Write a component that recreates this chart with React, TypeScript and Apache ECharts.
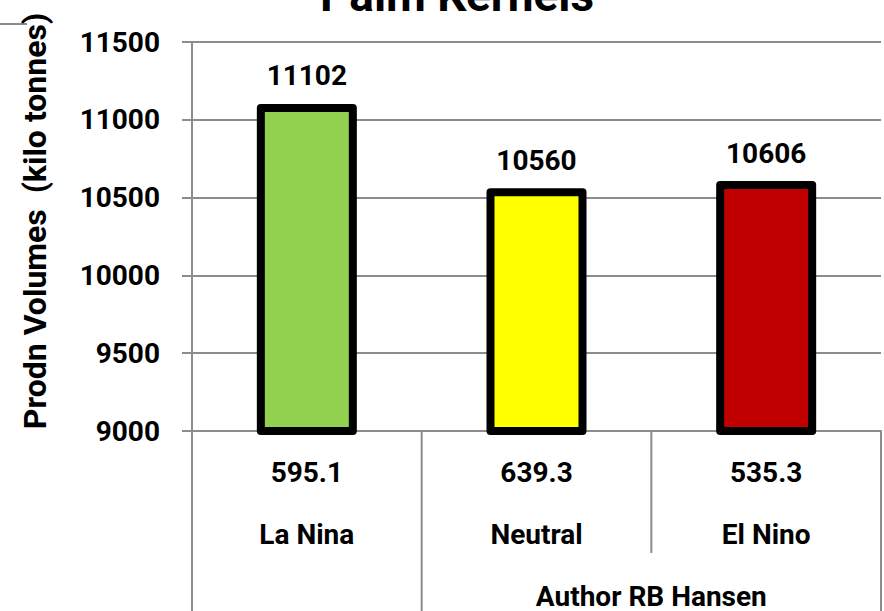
import React, { useEffect, useRef } from "react";
import * as echarts from "echarts";

const titleText = "Palm Kernels";
const yAxisTitle = "Prodn Volumes  (kilo tonnes)";
const categories = ["La Nina", "Neutral", "El Nino"];
const subLabels = ["595.1", "639.3", "535.3"];
const values = [11102, 10560, 10606];
const barColors = ["#92d050", "#ffff00", "#c00000"];
const groupLabels = ["", "Author RB Hansen"];
const groupSpans = [1, 2];
const yMin = 9000;
const yMax = 11500;
const yStep = 500;

const FONT = "Roboto";
const GRAY = "#8c8c8c";

export default function App() {
  const ref = useRef<HTMLDivElement>(null);
  useEffect(() => {
    if (!ref.current) return;
    const chart = echarts.init(ref.current, undefined, { renderer: "svg" });
    chart.setOption({
      animation: false,
      backgroundColor: "#ffffff",
      grid: { left: 192, right: 3, top: 42, bottom: 180, containLabel: false },
      xAxis: {
        type: "category",
        data: categories,
        axisLine: { show: true, lineStyle: { color: GRAY, width: 2 } },
        axisTick: { show: false },
        axisLabel: {
          margin: 10,
          interval: 0,
          formatter: (v: string, i: number) => `{a|${subLabels[i]}}\n{b|${v}}`,
          rich: {
            a: { fontFamily: FONT, fontWeight: "bold", fontSize: 28, color: "#000", lineHeight: 62 },
            b: { fontFamily: FONT, fontWeight: "bold", fontSize: 28, color: "#000", lineHeight: 62 },
          },
        },
      },
      yAxis: {
        type: "value",
        min: yMin,
        max: yMax,
        interval: yStep,
        axisLine: { show: true, lineStyle: { color: GRAY, width: 2 } },
        axisTick: { show: true, length: 10, lineStyle: { color: GRAY, width: 2 } },
        splitLine: { show: true, lineStyle: { color: GRAY, width: 2 } },
        axisLabel: {
          margin: 32,
          fontFamily: FONT,
          fontWeight: "bold",
          fontSize: 28,
          color: "#000",
          formatter: (v: number) => String(v),
        },
      },
      series: [
        {
          type: "bar",
          barWidth: 100,
          data: values.map((v, i) => ({ value: v, itemStyle: { color: barColors[i] } })),
          itemStyle: { borderColor: "#000", borderWidth: 8, borderJoin: "round" },
          label: {
            show: true,
            position: "top",
            distance: 14,
            fontFamily: FONT,
            fontWeight: "bold",
            fontSize: 28,
            color: "#000",
          },
        },
      ],
    });

    const c0 = chart.convertToPixel({ xAxisIndex: 0 }, categories[0]) as number;
    const c1 = chart.convertToPixel({ xAxisIndex: 0 }, categories[1]) as number;
    const band = c1 - c0;
    const left = c0 - band / 2;
    const yBase = chart.convertToPixel({ yAxisIndex: 0 }, yMin) as number;
    const H = chart.getHeight();
    const bottom = H;

    const elements: any[] = [];
    let idx = 0;
    const groupStarts: number[] = [];
    groupSpans.forEach((s) => {
      groupStarts.push(idx);
      idx += s;
    });
    for (let i = 0; i <= categories.length; i++) {
      const x = left + i * band;
      const isGroupBoundary = groupStarts.includes(i) || i === categories.length;
      elements.push({
        type: "line",
        shape: { x1: x, y1: yBase, x2: x, y2: isGroupBoundary ? bottom : yBase + 122 },
        style: { stroke: GRAY, lineWidth: 2 },
        silent: true,
      });
    }
    groupSpans.forEach((s, g) => {
      const gx = left + (groupStarts[g] + s / 2) * band;
      if (groupLabels[g]) {
        elements.push({
          type: "text",
          x: gx,
          y: yBase + 165,
          style: {
            text: groupLabels[g],
            fontFamily: FONT,
            fontWeight: "bold",
            fontSize: 28,
            fill: "#000",
            align: "center",
            verticalAlign: "middle",
          },
        });
      }
    });
    elements.push({
      type: "text",
      x: 457,
      y: -5,
      style: {
        text: titleText,
        fontFamily: FONT,
        fontWeight: "bold",
        fontSize: 46,
        fill: "#000",
        align: "center",
        verticalAlign: "middle",
      },
    });
    elements.push({
      type: "text",
      x: 35,
      y: 221,
      rotation: Math.PI / 2,
      style: {
        text: yAxisTitle,
        fontFamily: FONT,
        fontWeight: "bold",
        fontSize: 32,
        fill: "#000",
        align: "center",
        verticalAlign: "middle",
      },
    });
    elements.push({
      type: "line",
      shape: { x1: 0, y1: 24, x2: 27, y2: 24 },
      style: { stroke: GRAY, lineWidth: 2 },
      z: -1,
    });
    chart.setOption({ graphic: { elements } });

    return () => chart.dispose();
  }, []);
  return (
    <div
      ref={ref}
      style={{ position: "fixed", left: 0, top: 0, width: 884, height: 611, background: "#fff" }}
    />
  );
}
